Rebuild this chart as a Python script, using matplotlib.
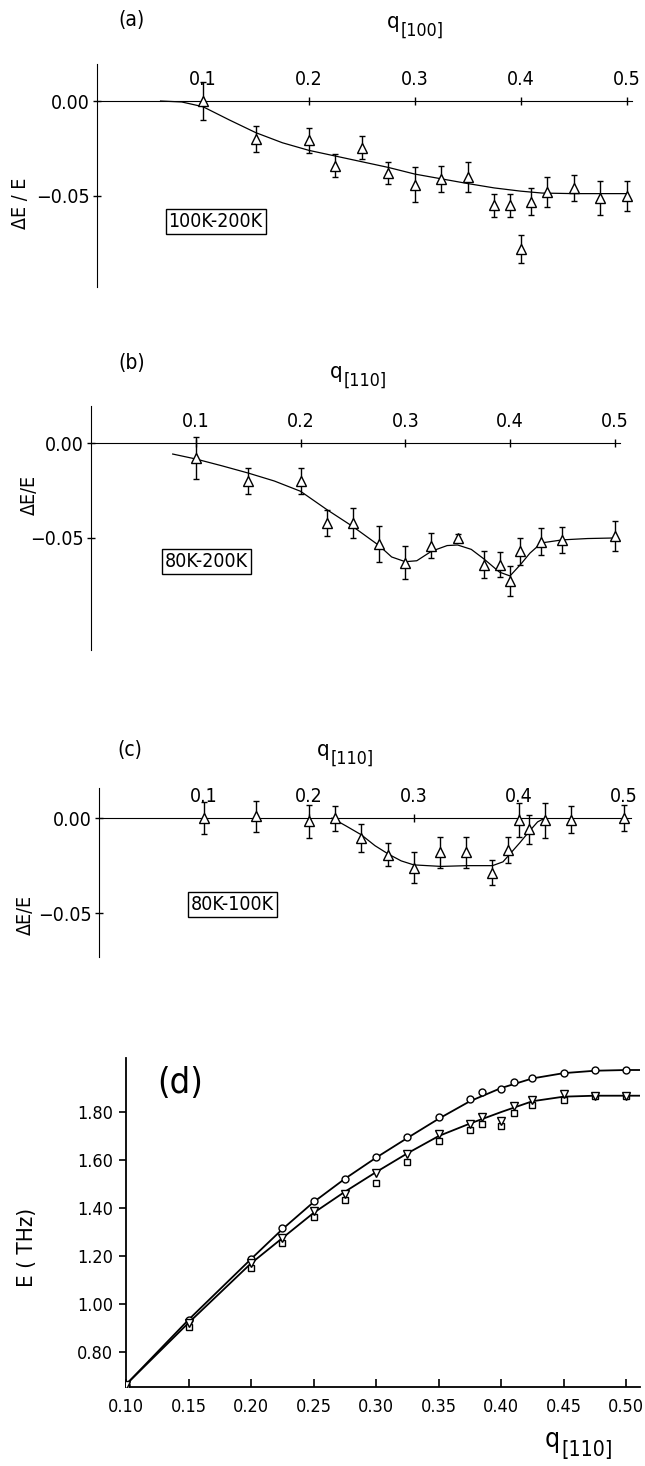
#!/usr/bin/env python3
# -*- coding: utf-8 -*-
import numpy as np
import matplotlib
matplotlib.use('Agg')
import matplotlib.pyplot as plt

# narrow face, closer to the old stencil lettering
plt.rcParams['font.family'] = ['DejaVu Sans']
plt.rcParams['font.stretch'] = 'condensed'

#************************************
''' Data '''
#************************************
# (a) 100K-200K, q[100]
qa = [0.10, 0.15, 0.20, 0.225, 0.25, 0.275, 0.30, 0.325, 0.35, 0.375, 0.39, 0.40, 0.41, 0.425, 0.45, 0.475, 0.50]
dEa = [0.000, -0.020, -0.0207, -0.034, -0.0245, -0.038, -0.044, -0.041, -0.040, -0.055, -0.055, -0.078, -0.053, -0.048, -0.046, -0.051, -0.050]
erra = [0.0099, 0.0068, 0.0066, 0.0063, 0.0060, 0.0058, 0.0090, 0.0070, 0.0077, 0.0059, 0.0060, 0.0075, 0.0072, 0.0079, 0.0068, 0.0091, 0.0080]
fit_qa = [0.06, 0.08, 0.10, 0.125, 0.15, 0.175, 0.20, 0.225, 0.25, 0.275, 0.30, 0.325, 0.35, 0.375, 0.40, 0.42, 0.45, 0.50]
fit_dEa = [0.0, -0.0005, -0.003, -0.010, -0.0167, -0.022, -0.026, -0.029, -0.032, -0.035, -0.0385, -0.041, -0.0435, -0.0458, -0.0475, -0.0485, -0.0488, -0.0488]

# (b) 80K-200K, q[110]
qb = [0.10, 0.15, 0.20, 0.225, 0.25, 0.275, 0.30, 0.325, 0.35, 0.375, 0.39, 0.40, 0.41, 0.43, 0.45, 0.50]
dEb = [-0.0079, -0.020, -0.020, -0.042, -0.042, -0.053, -0.063, -0.054, -0.050, -0.064, -0.064, -0.0725, -0.057, -0.052, -0.051, -0.049]
errb = [0.011, 0.007, 0.007, 0.0068, 0.0078, 0.0095, 0.0088, 0.0068, 0.002, 0.0072, 0.0068, 0.0078, 0.0072, 0.007, 0.0068, 0.0079]
fit_qb = [0.078, 0.10, 0.125, 0.15, 0.175, 0.20, 0.225, 0.25, 0.275, 0.287, 0.30, 0.311, 0.325, 0.34, 0.35, 0.363, 0.375, 0.39, 0.40, 0.41, 0.419, 0.43, 0.45, 0.474, 0.50]
fit_dEb = [-0.0058, -0.0084, -0.012, -0.0158, -0.020, -0.0254, -0.035, -0.044, -0.054, -0.060, -0.0625, -0.062, -0.057, -0.054, -0.0537, -0.056, -0.061, -0.068, -0.0700, -0.064, -0.058, -0.0526, -0.051, -0.0503, -0.050]

# (c) 80K-100K, q[110]
qc = [0.10, 0.15, 0.20, 0.225, 0.25, 0.275, 0.30, 0.325, 0.35, 0.375, 0.39, 0.40, 0.41, 0.425, 0.45, 0.50]
dEc = [0.000, 0.001, -0.0018, 0.000, -0.0105, -0.0193, -0.026, -0.018, -0.018, -0.0286, -0.0167, -0.0009, -0.0058, -0.0012, -0.0009, 0.000]
errc = [0.0083, 0.0082, 0.0088, 0.0066, 0.0073, 0.0060, 0.0081, 0.0083, 0.0083, 0.0066, 0.0068, 0.0090, 0.0076, 0.0093, 0.0072, 0.0070]
fit_qc = [0.222, 0.235, 0.25, 0.263, 0.276, 0.288, 0.30, 0.326, 0.351, 0.375, 0.385, 0.393, 0.401, 0.41, 0.418, 0.425]
fit_dEc = [0.0, -0.004, -0.0088, -0.0145, -0.019, -0.0225, -0.0246, -0.0254, -0.025, -0.025, -0.023, -0.018, -0.013, -0.007, -0.002, 0.0]

# (d) dispersion E(q), q[110]
qd = [0.10, 0.15, 0.20, 0.225, 0.25, 0.275, 0.30, 0.325, 0.35, 0.375, 0.385, 0.40, 0.41, 0.425, 0.45, 0.475, 0.50]
E_circ = [0.664, 0.936, 1.186, 1.318, 1.431, 1.521, 1.611, 1.694, 1.779, 1.856, 1.882, 1.897, 1.924, 1.941, 1.962, 1.974, 1.973]
E_tri = [0.665, 0.921, 1.172, 1.274, 1.389, 1.459, 1.548, 1.626, 1.708, 1.751, 1.779, 1.761, 1.824, 1.852, 1.877, 1.868, 1.868]
E_sq = [0.662, 0.904, 1.151, 1.253, 1.364, 1.434, 1.503, 1.591, 1.680, 1.726, 1.750, 1.740, 1.796, 1.831, 1.849, 1.865, 1.865]
fit_qd = [0.10, 0.15, 0.20, 0.225, 0.25, 0.275, 0.30, 0.325, 0.35, 0.375, 0.40, 0.425, 0.45, 0.475, 0.50, 0.511]
fit_up = [0.665, 0.935, 1.188, 1.312, 1.425, 1.522, 1.610, 1.692, 1.772, 1.845, 1.900, 1.940, 1.962, 1.972, 1.975, 1.975]
fit_lo = [0.665, 0.922, 1.170, 1.275, 1.380, 1.468, 1.550, 1.628, 1.700, 1.752, 1.800, 1.845, 1.864, 1.868, 1.868, 1.868]

W, H = 645, 1466

def px_axes(fig, l, t, r, b):
    return fig.add_axes([l/W, 1-b/H, (r-l)/W, (b-t)/H])

def px_text(fig, x, y, s, **kw):
    fig.text(x/W, 1-y/H, s, **kw)

def qlabel(fig, x, y, sub, size):
    # q with a lowered index, drawn as two plain texts
    px_text(fig, x, y, 'q', fontsize=size, ha='right', va='center')
    px_text(fig, x + 1, y + size*0.55, sub, fontsize=size*0.8, ha='left', va='center')

#************************************
''' Delta E / E panels '''
#************************************
def deltaPanel(ax, q, dE, err, fq, fdE, xlim, ylim, label, lpos):
    ax.plot(fq, fdE, color='k', lw=0.9, zorder=2)
    ax.errorbar(q, dE, yerr=err, fmt='^', ms=7, mfc='white', mec='k', mew=1.0,
                ecolor='k', elinewidth=1.0, capsize=2.5, capthick=1.0, zorder=3)
    ax.set_xlim(*xlim)
    ax.set_ylim(*ylim)
    for s in ['right', 'bottom']:
        ax.spines[s].set_visible(False)
    ax.spines['top'].set_position(('data', 0))
    ax.spines['left'].set_position(('data', 0))
    ax.xaxis.tick_top()
    ax.set_xticks([0.1, 0.2, 0.3, 0.4, 0.5])
    ax.set_xticklabels(['0.1', '0.2', '0.3', '0.4', '0.5'])
    ax.set_yticks([0.0, -0.05])
    ax.set_yticklabels(['0.00', '\u22120.05'])
    ax.tick_params(axis='x', direction='inout', length=6, width=1, labelsize=14, pad=6)
    ax.tick_params(axis='y', direction='inout', length=6, width=1, labelsize=14, pad=2)
    ax.text(lpos[0], lpos[1], label, fontsize=14, ha='center', va='center',
            bbox=dict(boxstyle='square,pad=0.15', fc='white', ec='k', lw=1.0))
    ax.patch.set_visible(False)

fig = plt.figure(figsize=(W/100, H/100), dpi=100)

# (a)
ax1 = px_axes(fig, 97, 64, 632, 287)
deltaPanel(ax1, qa, dEa, erra, fit_qa, fit_dEa, (0, 0.505), (-0.098, 0.0195), '100K-200K', (0.112, -0.0637))
px_text(fig, 132, 20, '(a)', fontsize=15, ha='center', va='center')
qlabel(fig, 400, 22, '[100]', 16)
px_text(fig, 20, 203, '\u0394E / E', fontsize=14, rotation=90, ha='center', va='center')

# (b)
ax2 = px_axes(fig, 91, 406, 620, 650)
deltaPanel(ax2, qb, dEb, errb, fit_qb, fit_dEb, (0, 0.505), (-0.109, 0.0195), '80K-200K', (0.110, -0.0626))
px_text(fig, 132, 363, '(b)', fontsize=15, ha='center', va='center')
qlabel(fig, 343, 372, '[110]', 16)
px_text(fig, 29, 495, '\u0394E/E', fontsize=14, rotation=90, ha='center', va='center')

# (c)
ax3 = px_axes(fig, 99, 788, 631, 957)
deltaPanel(ax3, qc, dEc, errc, fit_qc, fit_dEc, (0, 0.507), (-0.073, 0.0158), '80K-100K', (0.127, -0.0453))
px_text(fig, 130, 750, '(c)', fontsize=15, ha='center', va='center')
qlabel(fig, 330, 750, '[110]', 16)
px_text(fig, 25, 915, '\u0394E/E', fontsize=14, rotation=90, ha='center', va='center')

#************************************
''' Dispersion panel (d) '''
#************************************
ax4 = px_axes(fig, 126, 1058, 640, 1387)
ax4.plot(fit_qd, fit_up, color='k', lw=1.3, zorder=2)
ax4.plot(fit_qd, fit_lo, color='k', lw=1.3, zorder=2)
ax4.plot(qd, E_circ, 'o', ms=5, mfc='white', mec='k', mew=1.0, zorder=3)
ax4.plot(qd, E_sq, 's', ms=5, mfc='white', mec='k', mew=1.0, zorder=3)
ax4.plot(qd, E_tri, 'v', ms=6, mfc='white', mec='k', mew=1.0, zorder=4)
ax4.set_xlim(0.10, 0.511)
ax4.set_ylim(0.655, 2.025)
for s in ['right', 'top']:
    ax4.spines[s].set_visible(False)
ax4.spines['left'].set_linewidth(1.3)
ax4.spines['bottom'].set_linewidth(1.3)
xt = [0.10, 0.15, 0.20, 0.25, 0.30, 0.35, 0.40, 0.45, 0.50]
ax4.set_xticks(xt)
ax4.set_xticklabels(['%.2f' % v for v in xt])
yt = [0.80, 1.00, 1.20, 1.40, 1.60, 1.80]
ax4.set_yticks(yt)
ax4.set_yticklabels(['%.2f' % v for v in yt])
ax4.tick_params(axis='x', direction='in', length=6, width=1.2, labelsize=13, pad=8)
ax4.tick_params(axis='y', direction='out', length=5, width=1.2, labelsize=13, pad=4)
ax4.patch.set_visible(False)
px_text(fig, 180, 1083, '(d)', fontsize=26, ha='center', va='center')
px_text(fig, 27, 1247, 'E ( THz)', fontsize=16, rotation=90, ha='center', va='center')
qlabel(fig, 560, 1440, '[110]', 19)

plt.savefig('out.png', dpi=100)
plt.close()
